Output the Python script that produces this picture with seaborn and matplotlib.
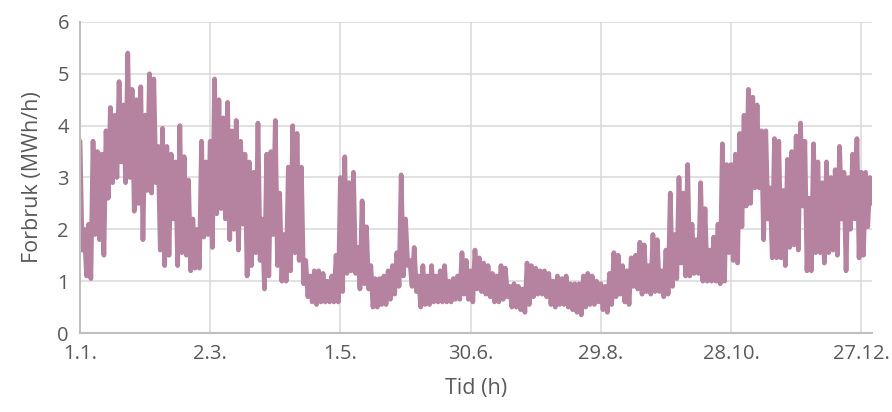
import numpy as np
import pandas as pd
import matplotlib
matplotlib.use('Agg')
import matplotlib.pyplot as plt
import seaborn as sns

# daglige topp/bunn-verdier, lest av figuren (2 dager per par)
topp = [3.7, 2.0, 2.1, 3.7, 3.5, 3.45, 3.9, 4.35, 4.2, 4.85,
        4.4, 5.4, 4.7, 4.5, 4.75, 4.2, 5.0, 4.9, 3.6, 3.95,
        3.6, 3.45, 3.3, 4.0, 3.4, 2.95, 2.2, 2.0, 3.7, 3.3,
        3.7, 4.9, 4.5, 4.15, 4.45, 3.9, 4.1, 3.7, 3.45, 3.3,
        3.1, 4.05, 2.2, 3.45, 3.5, 4.1, 2.7, 1.9, 3.2, 4.0,
        3.85, 3.2, 1.4, 1.1, 1.2, 1.2, 1.15, 1.0, 1.1, 1.5,
        3.0, 3.4, 2.9, 3.1, 1.65, 2.55, 2.05, 1.3, 1.05, 1.05,
        1.1, 1.2, 1.3, 1.55, 3.05, 2.2, 1.4, 1.65, 1.1, 1.3,
        1.1, 1.3, 1.1, 1.2, 1.3, 1.0, 1.05, 1.1, 1.55, 1.4,
        1.2, 1.6, 1.45, 1.35, 1.3, 1.15, 1.1, 1.3, 1.25, 0.9,
        0.95, 0.9, 0.85, 1.35, 1.3, 1.25, 1.2, 1.2, 1.15, 1.0,
        1.1, 1.05, 1.1, 0.95, 0.95, 0.95, 1.1, 1.15, 1.1, 1.0,
        0.95, 0.9, 1.15, 1.55, 1.5, 1.3, 1.2, 1.45, 1.5, 1.75,
        1.7, 1.3, 1.9, 1.8, 1.2, 1.6, 2.7, 1.9, 3.0, 2.7,
        3.25, 2.1, 1.8, 2.9, 2.4, 1.6, 1.85, 2.1, 3.65, 3.25,
        3.25, 3.45, 3.85, 4.2, 4.7, 4.55, 4.4, 3.9, 3.9, 2.8,
        3.75, 3.7, 2.75, 3.35, 3.5, 3.8, 4.05, 3.7, 2.6, 3.65,
        3.3, 2.9, 3.3, 3.0, 3.15, 3.6, 3.1, 3.0, 3.45, 3.75,
        3.1, 3.1, 3.0]
bunn = [1.6, 1.1, 1.05, 1.9, 1.8, 1.5, 2.6, 2.9, 3.0, 3.3,
        2.9, 3.0, 2.35, 2.5, 1.8, 2.75, 2.7, 2.9, 1.6, 1.3,
        1.5, 2.2, 1.3, 1.55, 1.5, 1.2, 1.25, 1.25, 1.85, 1.9,
        1.65, 2.3, 2.4, 2.2, 1.8, 2.0, 1.6, 2.1, 1.1, 1.3,
        1.55, 1.4, 0.85, 1.1, 1.9, 1.3, 1.0, 1.0, 1.2, 1.55,
        1.4, 0.95, 0.7, 0.6, 0.55, 0.6, 0.6, 0.6, 0.6, 0.6,
        0.8, 1.15, 1.2, 1.15, 0.85, 0.95, 0.85, 0.5, 0.5, 0.55,
        0.55, 0.65, 0.75, 0.9, 1.1, 1.3, 0.9, 0.8, 0.5, 0.55,
        0.55, 0.6, 0.6, 0.6, 0.6, 0.6, 0.65, 0.65, 0.75, 0.65,
        0.6, 0.85, 0.8, 0.75, 0.7, 0.6, 0.6, 0.65, 0.7, 0.5,
        0.5, 0.45, 0.4, 0.55, 0.7, 0.75, 0.75, 0.7, 0.55, 0.5,
        0.55, 0.55, 0.5, 0.45, 0.4, 0.35, 0.5, 0.55, 0.55, 0.6,
        0.45, 0.4, 0.55, 0.7, 0.75, 0.6, 0.55, 0.9, 0.85, 0.75,
        0.8, 0.75, 0.8, 0.8, 0.7, 0.75, 0.9, 1.05, 1.35, 1.1,
        1.1, 1.15, 1.15, 1.0, 1.0, 1.0, 1.0, 0.95, 1.0, 1.55,
        1.4, 1.35, 2.05, 2.45, 2.5, 2.8, 2.8, 1.8, 2.2, 1.45,
        1.45, 1.45, 1.3, 1.65, 1.7, 1.6, 2.45, 1.2, 1.2, 1.55,
        1.55, 1.35, 1.55, 1.6, 1.5, 2.2, 1.2, 2.0, 2.2, 1.45,
        1.5, 2.05, 2.5]

tick_labels = ['1.1.', '2.3.', '1.5.', '30.6.', '29.8.', '28.10.', '27.12.']
tick_hours = [0, 1440, 2880, 4320, 5760, 7200, 8640]

forbruk = []
for t, b in zip(topp, bunn):
    forbruk += [t, b]
forbruk = forbruk[:366]
df = pd.DataFrame({'tid': np.arange(len(forbruk)) * 24, 'forbruk': forbruk})

sns.set_style('whitegrid')
plt.rcParams['font.family'] = ['Open Sans', 'DejaVu Sans']
grey = '#595959'

fig = plt.figure(figsize=(8.92, 4.12), dpi=100)
ax = fig.add_axes([0.0897, 0.1917, 0.888, 0.755])
sns.lineplot(data=df, x='tid', y='forbruk', ax=ax, color='#b5829f', linewidth=3.4)

ax.set_xlim(0, 8760)
ax.set_ylim(0, 6)
ax.set_xticks(tick_hours)
ax.set_xticklabels(tick_labels)
ax.set_yticks(range(0, 7))
ax.tick_params(axis='both', colors=grey, labelsize=14.5, length=0, pad=8)
ax.set_xlabel('Tid (h)', color=grey, fontsize=15.5, labelpad=10)
ax.set_ylabel('Forbruk (MWh/h)', color=grey, fontsize=15.5, labelpad=10)
ax.grid(True, color='#d9d9d9', linewidth=1.1)
for s in ['top', 'right']:
    ax.spines[s].set_visible(False)
for s in ['left', 'bottom']:
    ax.spines[s].set_color('#bfbfbf')
    ax.spines[s].set_linewidth(1.5)

fig.savefig('out.png', dpi=100)
